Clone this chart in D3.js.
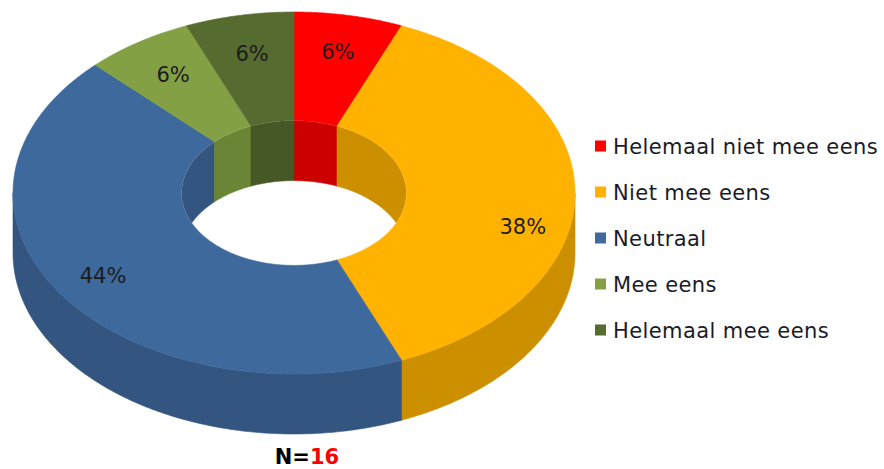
<!DOCTYPE html>
<html>
<head>
<meta charset="utf-8">
<script src="https://cdn.jsdelivr.net/npm/d3@7"></script>
<style>
  html, body { margin: 0; padding: 0; background: #ffffff; }
  svg { display: block; }
</style>
</head>
<body>
<svg id="chart" width="884" height="469"></svg>
<script>
// ---- data ----
const categories = ["Helemaal niet mee eens", "Niet mee eens", "Neutraal", "Mee eens", "Helemaal mee eens"];
const counts = [1, 6, 7, 1, 1];
const totalN = 16;
const topColors = ["#FF0000", "#FFB300", "#3E699C", "#83A044", "#566B30"];
const sideColors = ["#CC0000", "#CC8F00", "#33557F", "#6A8535", "#465826"];
const legendColors = ["#FF0000", "#FFB300", "#3F6A9E", "#84A046", "#556B2F"];

// ---- layout ----
const W = 884, H = 469;
const cx = 294, cy = 193, rx = 281, ry = 181, depth = 60, innerFrac = 0.4;
const labelFrac = 0.8;
const labelNudge = [[0, 0], [4, 33], [-4, 2], [4, 2], [2, 2]];

const svg = d3.select("#chart");

const color = d3.scaleOrdinal().domain(categories).range(topColors);
const sideColor = d3.scaleOrdinal().domain(categories).range(sideColors);
const xr = d3.scaleLinear().domain([0, 1]).range([0, rx]);
const yr = d3.scaleLinear().domain([0, 1]).range([0, ry]);

const pie = d3.pie().sort(null).value(d => d.v).startAngle(0).endAngle(2 * Math.PI);
const arcs = pie(categories.map((c, i) => ({ c, v: counts[i], i })));

function P(r, t, h) {
  return [cx + xr(r) * Math.sin(t), cy - yr(r) * Math.cos(t) + h];
}
function arcPts(r, a, b, h) {
  const n = Math.max(4, Math.ceil(Math.abs(b - a) / 0.01));
  const pts = [];
  for (let k = 0; k <= n; k++) pts.push(P(r, a + (b - a) * k / n, h));
  return pts;
}
const line = d3.line();
function band(r1, a, b, h1, r2, h2) {
  const p1 = arcPts(r1, a, b, h1);
  const p2 = arcPts(r2, a, b, h2).reverse();
  return line(p1.concat(p2)) + "Z";
}
function clip(a, b, lo, hi) {
  const s = Math.max(a, lo), e = Math.min(b, hi);
  return s < e ? [s, e] : null;
}

// clip path for hole
const defs = svg.append("defs");
defs.append("clipPath").attr("id", "hole")
  .append("ellipse")
  .attr("cx", cx).attr("cy", cy)
  .attr("rx", xr(innerFrac)).attr("ry", yr(innerFrac));

// inner back walls
const gInner = svg.append("g").attr("clip-path", "url(#hole)");
arcs.forEach(d => {
  [[0, Math.PI / 2], [1.5 * Math.PI, 2 * Math.PI]].forEach(([lo, hi]) => {
    const seg = clip(d.startAngle, d.endAngle, lo, hi);
    if (!seg) return;
    gInner.append("path")
      .attr("d", band(innerFrac, seg[0], seg[1], 0, innerFrac, depth))
      .attr("fill", sideColor(d.data.c))
      .attr("stroke", sideColor(d.data.c)).attr("stroke-width", 0.6);
  });
});

// outer front side walls
const gSide = svg.append("g");
arcs.forEach(d => {
  const seg = clip(d.startAngle, d.endAngle, Math.PI / 2, 1.5 * Math.PI);
  if (!seg) return;
  gSide.append("path")
    .attr("d", band(1, seg[0], seg[1], 0, 1, depth))
    .attr("fill", sideColor(d.data.c))
    .attr("stroke", sideColor(d.data.c)).attr("stroke-width", 0.6);
});

// top faces
const gTop = svg.append("g");
arcs.forEach(d => {
  gTop.append("path")
    .attr("d", band(1, d.startAngle, d.endAngle, 0, innerFrac, 0))
    .attr("fill", color(d.data.c))
    .attr("stroke", color(d.data.c)).attr("stroke-width", 0.6);
});

// percentage labels
const gLab = svg.append("g");
arcs.forEach((d, i) => {
  const mid = (d.startAngle + d.endAngle) / 2;
  const p = P(labelFrac, mid, 0);
  gLab.append("text")
    .attr("x", p[0] + labelNudge[i][0])
    .attr("y", p[1] + labelNudge[i][1])
    .attr("dy", "0.36em")
    .attr("text-anchor", "middle")
    .attr("font-family", "'DejaVu Sans', Verdana, sans-serif")
    .attr("font-size", 21)
    .attr("fill", "#1c1c1c")
    .text(Math.round(d.data.v / totalN * 100) + "%");
});

// legend
const gLeg = svg.append("g").attr("transform", "translate(595,146)");
categories.forEach((c, i) => {
  const row = gLeg.append("g").attr("transform", `translate(0,${i * 46})`);
  row.append("rect").attr("x", 0).attr("y", -5.5).attr("width", 11).attr("height", 11)
    .attr("fill", legendColors[i]);
  row.append("text").attr("x", 18).attr("y", 7.5)
    .attr("font-family", "'DejaVu Sans', Verdana, sans-serif")
    .attr("font-size", 21)
    .attr("letter-spacing", "0.4px")
    .attr("fill", "#1a1a2a")
    .text(c);
});

// N label
const nText = svg.append("text")
  .attr("x", 307).attr("y", 464)
  .attr("text-anchor", "middle")
  .attr("font-family", "'DejaVu Sans', Verdana, sans-serif")
  .attr("font-weight", "bold")
  .attr("font-size", 21);
nText.append("tspan").attr("fill", "#000000").text("N=");
nText.append("tspan").attr("fill", "#FF0000").text(totalN);
</script>
</body>
</html>
